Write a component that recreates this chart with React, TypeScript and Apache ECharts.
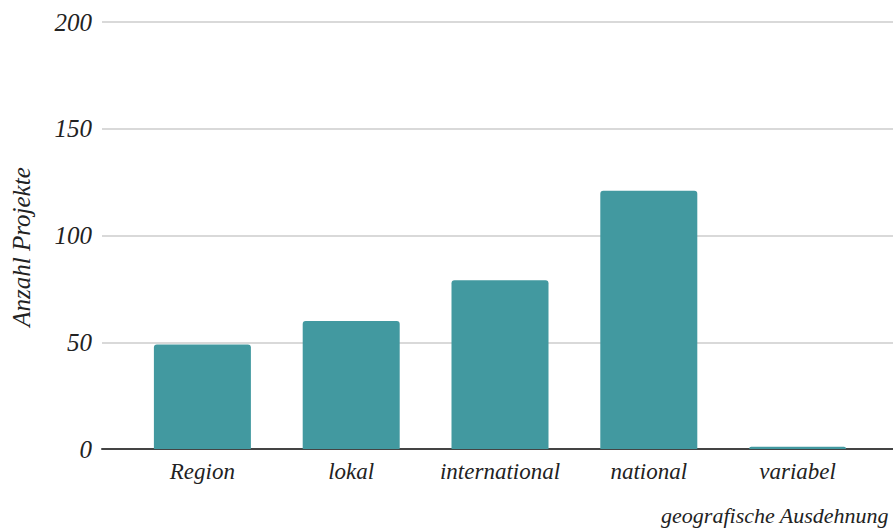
import React, { useEffect, useRef } from "react";
import * as echarts from "echarts";

const categories = ["Region", "lokal", "international", "national", "variabel"];
const values = [49, 60, 79, 121, 1];
const yMin = 0;
const yMax = 200;
const yInterval = 50;
const xTitle = "geografische Ausdehnung";
const yTitle = "Anzahl Projekte";

const FONT = "'Liberation Serif', 'DejaVu Serif', serif";

export default function App() {
  const ref = useRef<HTMLDivElement>(null);
  useEffect(() => {
    document.body.style.margin = "0";
    if (!ref.current) return;
    const chart = echarts.init(ref.current, undefined, { renderer: "svg" });
    chart.setOption({
      animation: false,
      backgroundColor: "#ffffff",
      grid: [
        { left: 102, right: 0, top: 22, bottom: 83, outerBoundsMode: "none", containLabel: false },
        { left: 128, right: 21, top: 22, bottom: 83, outerBoundsMode: "none", containLabel: false },
      ],
      xAxis: [
        {
          gridIndex: 0,
          type: "category",
          data: [""],
          axisLine: { show: true, lineStyle: { color: "#444444", width: 2 } },
          axisTick: { show: false },
          axisLabel: { show: false },
          splitLine: { show: false },
        },
        {
          gridIndex: 1,
          type: "category",
          data: categories,
          axisLine: { show: false },
          axisTick: { show: false },
          axisLabel: {
            interval: 0,
            margin: 11,
            fontFamily: FONT,
            fontStyle: "italic",
            fontSize: 23,
            color: "#222222",
          },
        },
      ],
      yAxis: [
        {
          gridIndex: 0,
          type: "value",
          min: yMin,
          max: yMax,
          interval: yInterval,
          axisLine: { show: false },
          axisTick: { show: false },
          axisLabel: {
            margin: 10,
            fontFamily: FONT,
            fontStyle: "italic",
            fontSize: 25,
            color: "#222222",
          },
          splitLine: { show: true, lineStyle: { color: "#cccccc", width: 1.5 } },
        },
        {
          gridIndex: 1,
          type: "value",
          min: yMin,
          max: yMax,
          interval: yInterval,
          show: false,
          splitLine: { show: false },
        },
      ],
      graphic: [
        {
          type: "text",
          right: 4,
          top: 504,
          style: {
            text: xTitle,
            fontFamily: FONT,
            fontStyle: "italic",
            fontSize: 22,
            fill: "#222222",
          },
        },
        {
          type: "text",
          x: 21,
          y: 247,
          rotation: Math.PI / 2,
          style: {
            text: yTitle,
            fontFamily: FONT,
            fontStyle: "italic",
            fontSize: 25,
            fill: "#222222",
            align: "center",
            verticalAlign: "middle",
          },
        },
      ],
      series: [
        {
          type: "bar",
          xAxisIndex: 1,
          yAxisIndex: 1,
          data: values,
          barWidth: 97,
          itemStyle: { color: "#4299a0", borderRadius: [3, 3, 0, 0] },
        },
      ],
    });
    return () => chart.dispose();
  }, []);
  return <div ref={ref} style={{ width: 893, height: 532 }} />;
}
